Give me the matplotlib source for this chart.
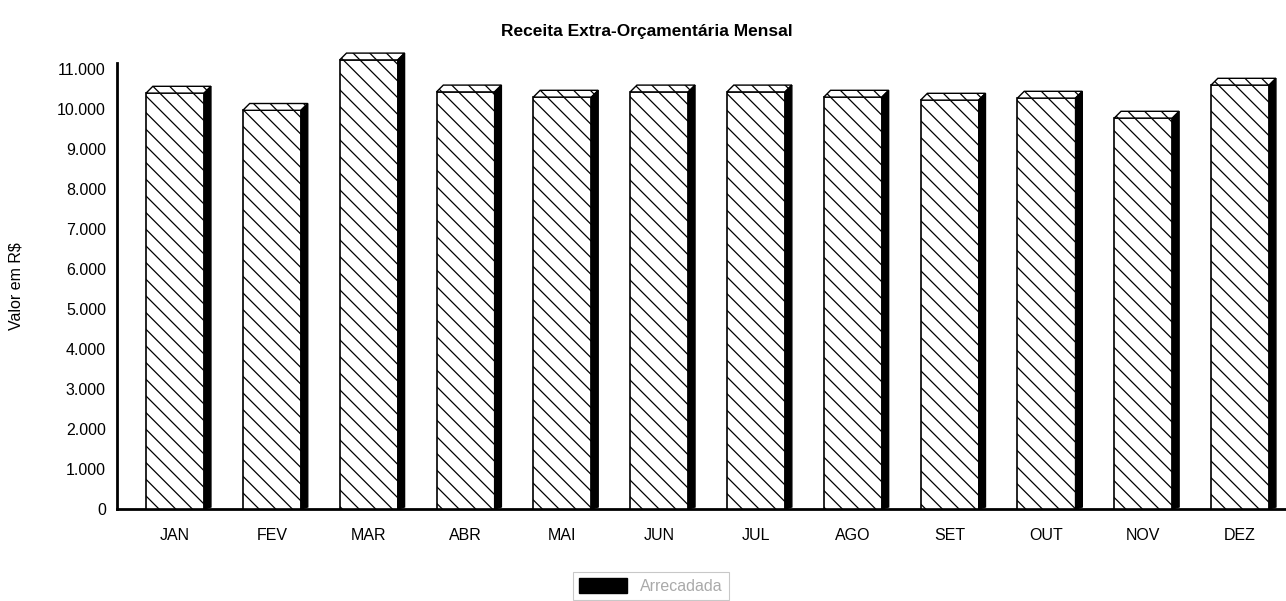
import matplotlib
matplotlib.use("Agg")
import matplotlib.pyplot as plt
from matplotlib.patches import Polygon, Patch
import matplotlib.ticker as tick

plt.rcParams.update({'font.family': ['Liberation Sans', 'DejaVu Sans'],
                     'font.size': 11.5,
                     'hatch.linewidth': 0.9})

meses = ['JAN', 'FEV', 'MAR', 'ABR', 'MAI', 'JUN', 'JUL', 'AGO', 'SET', 'OUT', 'NOV', 'DEZ']
arrecadada = [10400, 9970, 11230, 10430, 10300, 10430, 10430, 10300, 10225, 10275, 9775, 10600]

fig = plt.figure(figsize=(12.86, 6.01), dpi=100)
ax = fig.add_axes([0.091, 0.153, 0.92, 0.742])

largura = 0.6
dx, dy = 0.07, 170   # profundidade do efeito 3D

x = list(range(len(meses)))
ax.bar(x, arrecadada, width=largura, color='white', edgecolor='black',
       linewidth=1.2, hatch='\\\\', zorder=3, clip_on=False)

# faces 3D: topo hachurado e lateral preta
for xi, v in zip(x, arrecadada):
    l, r = xi - largura / 2, xi + largura / 2
    topo = Polygon([(l, v), (r, v), (r + dx, v + dy), (l + dx, v + dy)],
                   closed=True, facecolor='white', edgecolor='black',
                   linewidth=1.0, hatch='\\\\', zorder=3, clip_on=False)
    lado = Polygon([(r, 0), (r + dx, dy * 0.3), (r + dx, v + dy), (r, v)],
                   closed=True, facecolor='black', edgecolor='black',
                   linewidth=1.0, zorder=3, clip_on=False)
    ax.add_patch(topo)
    ax.add_patch(lado)

ax.set_xlim(-0.6, 11.62)
ax.set_ylim(0, 11150)
ax.set_xticks(x)
ax.set_xticklabels(meses, fontsize=12)
ax.set_yticks(range(0, 11001, 1000))
ax.yaxis.set_major_formatter(tick.FuncFormatter(lambda v, p: format(int(v), ',').replace(',', '.')))
ax.tick_params(length=0, pad=8, labelsize=11.5)
ax.tick_params(axis='x', pad=14)

for s in ['top', 'right']:
    ax.spines[s].set_visible(False)
ax.spines['left'].set_linewidth(2.0)
ax.spines['bottom'].set_linewidth(2.0)

ax.set_ylabel('Valor em R\\$', fontsize=11.5, labelpad=24)
fig.text(0.503, 0.947, 'Receita Extra-Orçamentária Mensal', ha='center', va='center',
         fontsize=12.5, fontweight='bold')

leg = fig.legend(handles=[Patch(facecolor='black', edgecolor='black')], labels=['Arrecadada'],
                 loc='center', bbox_to_anchor=(0.506, 0.025), frameon=True, fancybox=False,
                 fontsize=11.5, handlelength=3.0, handleheight=1.1, borderpad=0.4)
leg.get_frame().set_edgecolor('#bbbbbb')
leg.get_frame().set_linewidth(0.8)
for t in leg.get_texts():
    t.set_color('#aaaaaa')

fig.savefig('out.png', dpi=100)
